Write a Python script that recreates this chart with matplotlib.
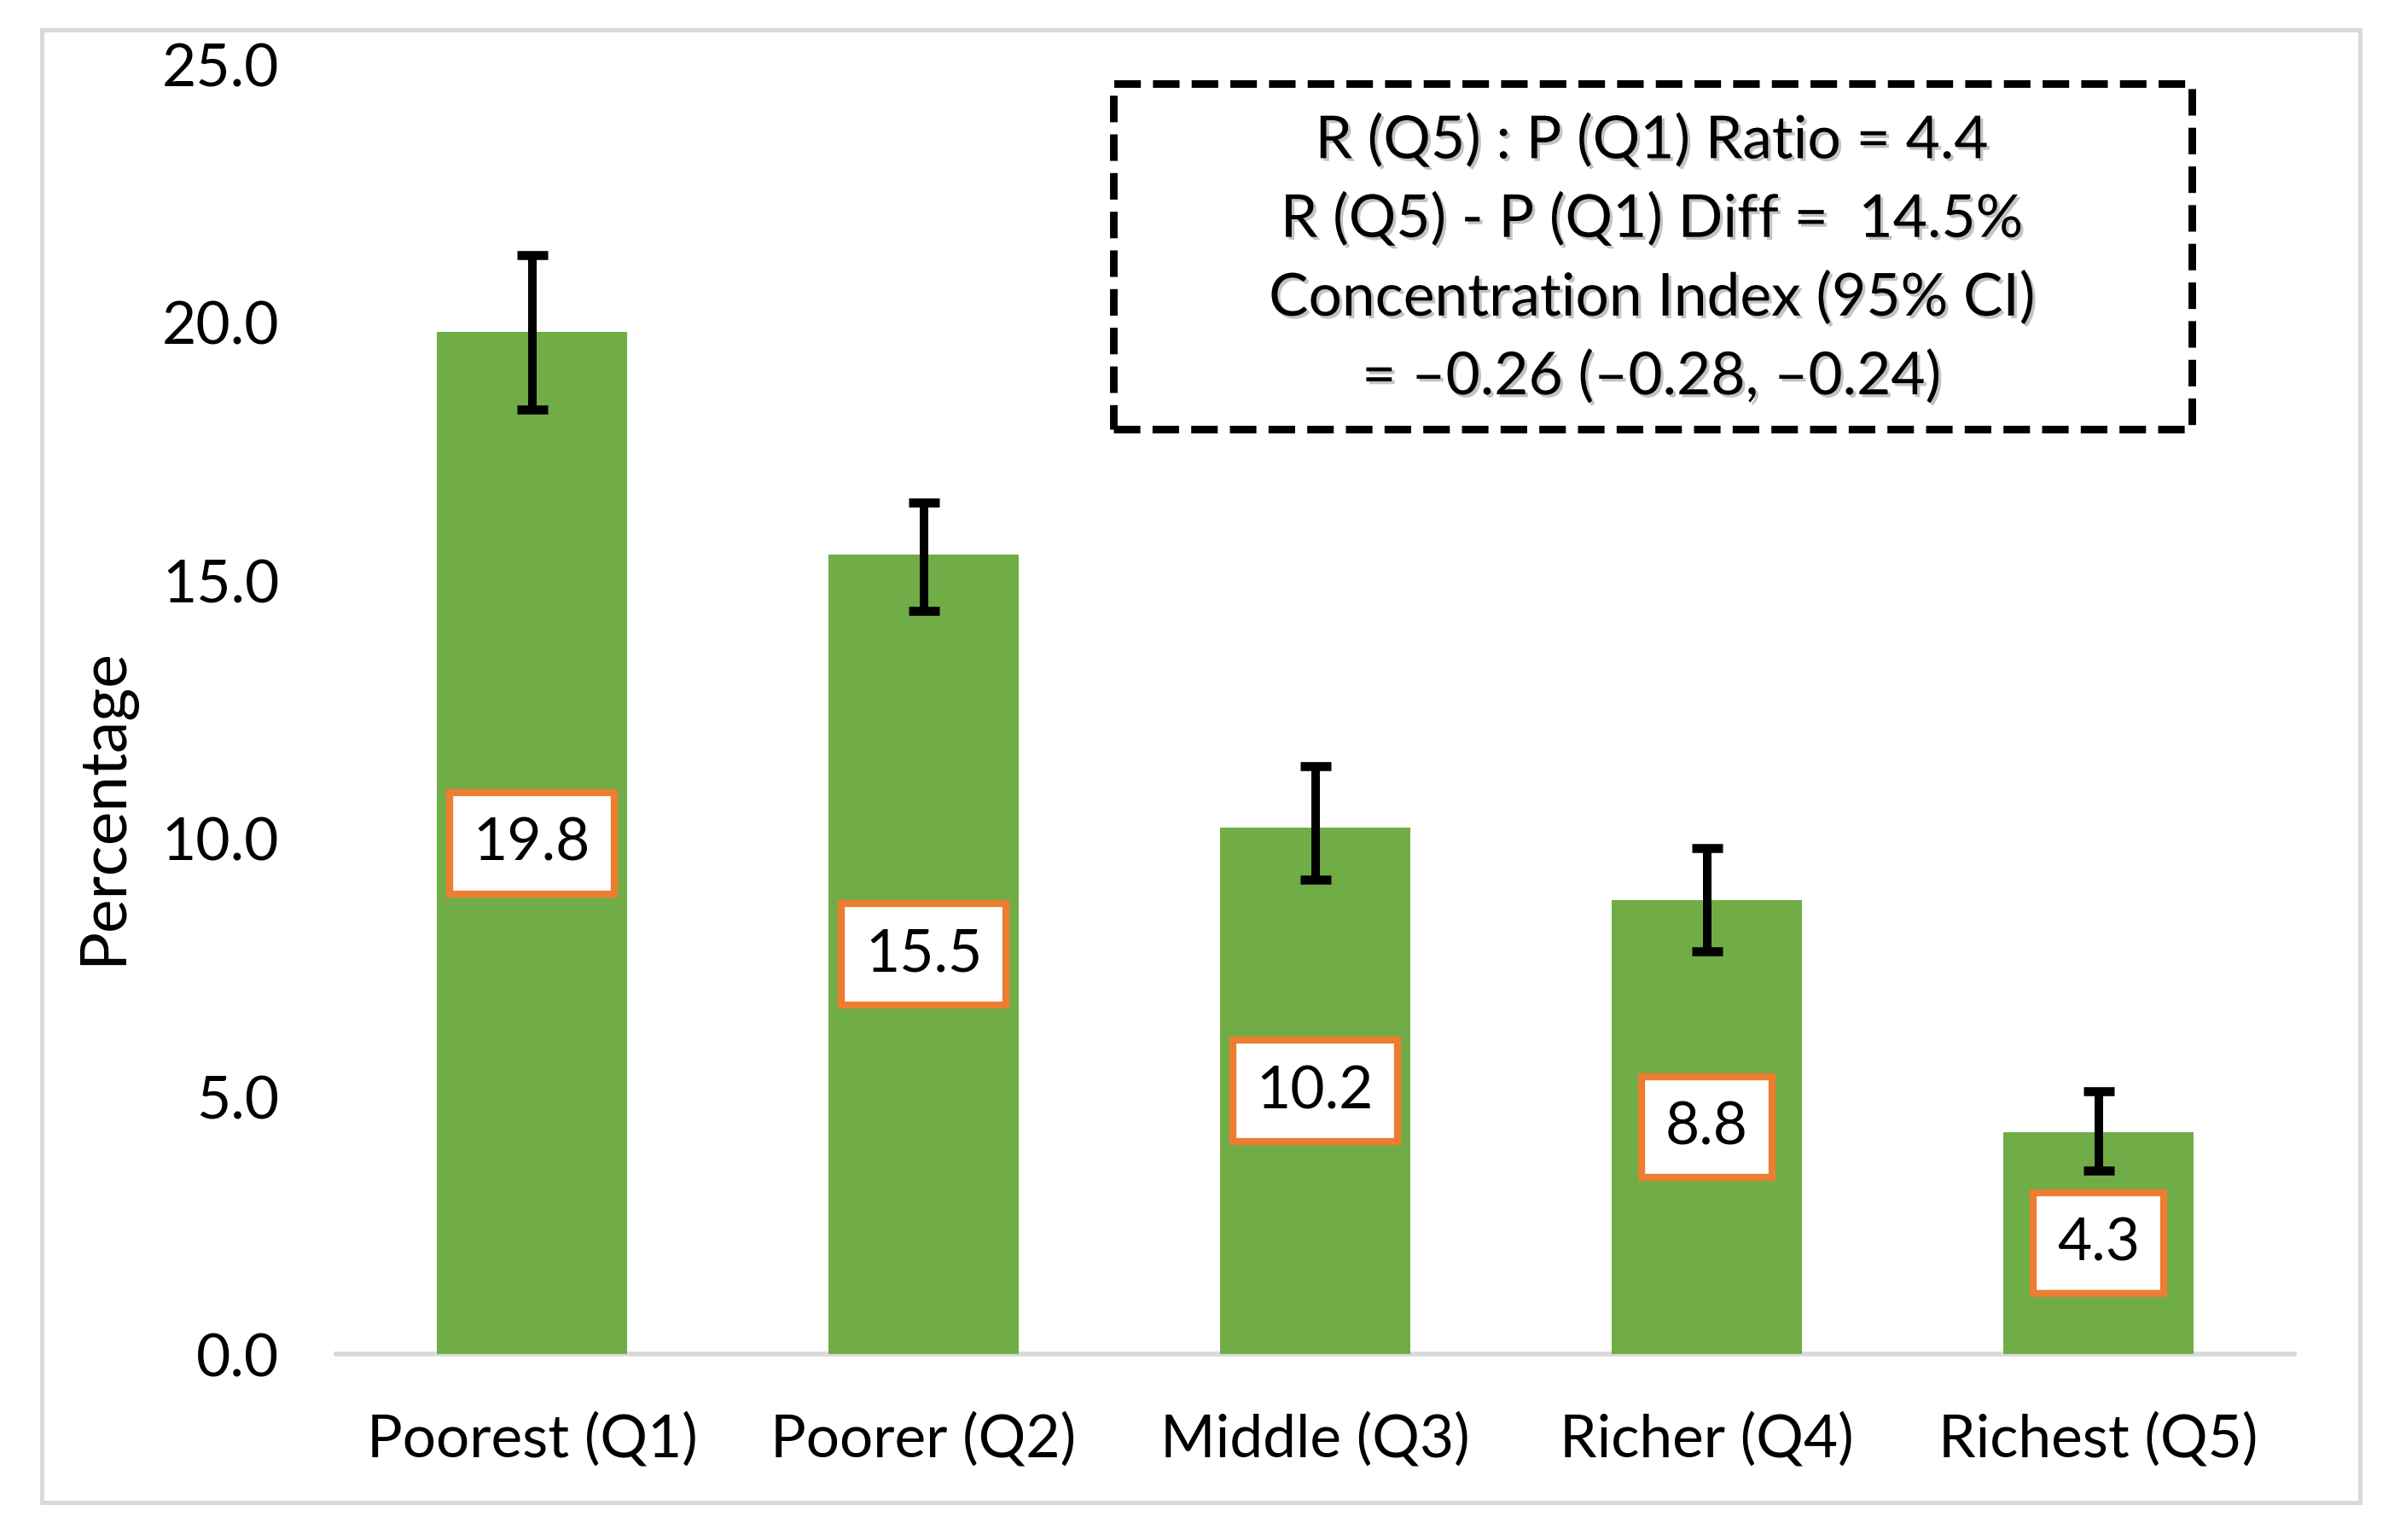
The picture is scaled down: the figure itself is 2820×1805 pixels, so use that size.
import matplotlib
matplotlib.use("Agg")
import matplotlib.pyplot as plt
import matplotlib.patheffects as pe
from matplotlib.patches import Rectangle
import numpy as np

categories = ["Poorest (Q1)", "Poorer (Q2)", "Middle (Q3)", "Richer (Q4)", "Richest (Q5)"]
values = [19.8, 15.5, 10.2, 8.8, 4.3]
ci_low = [18.3, 14.4, 9.2, 7.8, 3.55]
ci_high = [21.3, 16.5, 11.4, 9.8, 5.1]
yticks = [0, 5, 10, 15, 20, 25]
inset_lines = [
    "R (Q5) : P (Q1) Ratio = 4.4",
    "R (Q5) - P (Q1) Diff =  14.5%",
    "Concentration Index (95% CI)",
    "= \u20130.26 (\u20130.28, \u20130.24)",
]

GREEN = "#70AD47"
ORANGE = "#ED7D31"
GRAY = "#D9D9D9"
FONT = "Lato"
FS = 25

plt.rcParams["font.family"] = [FONT, "DejaVu Sans"]

W, H = 2820, 1806
fig = plt.figure(figsize=(W / 200, H / 200), dpi=200)
fig.patch.set_facecolor("white")

# outer border
fig.patches.append(Rectangle((49 / W, 1 - 1762 / H), (2766 - 49) / W, (1762 - 36) / H,
                             transform=fig.transFigure, fill=False, edgecolor=GRAY,
                             linewidth=1.8, zorder=0))

ax_l, ax_r, ax_b, ax_t = 394, 2689, 1588, 76
ax = fig.add_axes([ax_l / W, 1 - ax_b / H, (ax_r - ax_l) / W, (ax_b - ax_t) / H])
x = np.arange(len(categories))
vals = np.array(values)
yerr = np.array([vals - np.array(ci_low), np.array(ci_high) - vals])
ax.bar(x, vals, width=0.485, color=GREEN, zorder=2)
ax.errorbar(x, vals, yerr=yerr, fmt="none", ecolor="black", elinewidth=3.6,
            capsize=6.5, capthick=3.8, zorder=4)

for xi, v in zip(x, values):
    ax.text(xi, v / 2, f"{v:.1f}", ha="center", va="center", fontsize=FS, zorder=5,
            bbox=dict(boxstyle="square,pad=0.4", facecolor="white",
                      edgecolor=ORANGE, linewidth=3.0))

ax.set_xlim(-0.5, len(categories) - 0.5)
ax.set_ylim(0, 25)
ax.set_yticks(yticks)
ax.set_yticklabels([f"{t:.1f}" for t in yticks], fontsize=FS)
ax.set_xticks(x)
ax.set_xticklabels(categories, fontsize=FS)
ax.tick_params(axis="y", length=0, pad=24)
ax.tick_params(axis="x", length=0, pad=24)
for s in ["top", "right", "left"]:
    ax.spines[s].set_visible(False)
ax.spines["bottom"].set_color(GRAY)
ax.spines["bottom"].set_linewidth(2.0)
ax.spines["bottom"].set_zorder(1)
fig.text(123 / W, 1 - 945 / H, "Percentage", rotation=90, ha="center", va="center",
         fontsize=27)

# inset dashed box
fig.patches.append(Rectangle((1305 / W, 1 - 504 / H), (2569 - 1305) / W, (504 - 99) / H,
                             transform=fig.transFigure, fill=False, edgecolor="black",
                             linewidth=3.2, linestyle=(0, (3.5, 1.6)), zorder=3))
shadow = [pe.withSimplePatchShadow(offset=(1.2, -1.2), shadow_rgbFace="#888888", alpha=0.5)]
for i, line in enumerate(inset_lines):
    fig.text(1936 / W, 1 - (166 + i * 92.3) / H, line, ha="center", va="center",
             fontsize=FS, path_effects=shadow)

fig.savefig("out.png", dpi=200, facecolor="white")
